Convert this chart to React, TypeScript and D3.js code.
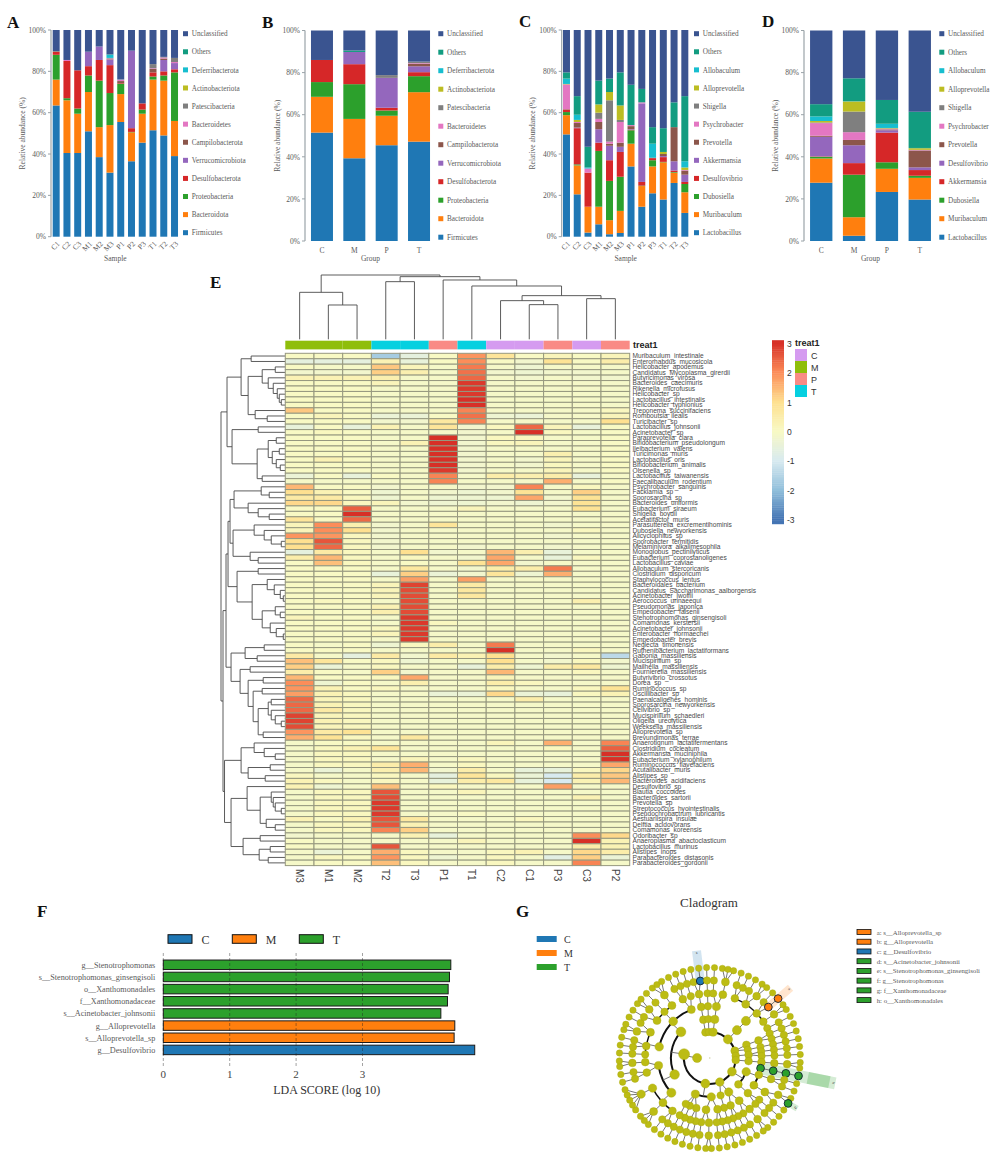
import React from "react";
import * as d3 from "d3";

const sampleIds = ["C1","C2","C3","M1","M2","M3","P1","P2","P3","T1","T2","T3"];
const groupIds = ["C","M","P","T"];
const phylumNames = ["Firmicutes","Bacteroidota","Proteobacteria","Desulfobacterota","Verrucomicrobiota","Campilobacterota","Bacteroidetes","Patescibacteria","Actinobacteriota","Deferribacterota","Others","Unclassified"];
const genusNamesC = ["Lactobacillus","Muribaculum","Dubosiella","Desulfovibrio","Akkermansia","Prevotella","Psychrobacter","Shigella","Alloprevotella","Allobaculum","Others","Unclassified"];
const genusNamesD = ["Lactobacillus","Muribaculum","Dubosiella","Akkermansia","Desulfovibrio","Prevotella","Psychrobacter","Shigella","Alloprevotella","Allobaculum","Others","Unclassified"];
const stackColors = ["#1f77b4","#ff7f0e","#2ca02c","#d62728","#9467bd","#8c564b","#e377c2","#7f7f7f","#bcbd22","#17becf","#129c80","#3a5490"];

const phylumBySample = [
  [63.5,12.5,12,1.5,0,0.2,0,0,0,0,0.1,10.2],
  [40.5,25.5,1,18,0,0,0.5,0,0,0,0,14.5],
  [40.5,19,2.5,18.5,0,0,0,0,0,0,0,19.5],
  [51,19,8,4.5,7,0,0,0,0,0,0,10.5],
  [38.5,14.5,22.5,10,6.5,0,0,0,0,0,0,8],
  [31,23,15.5,13.5,2.5,0.3,0.4,0.3,0,1.5,0.2,11.8],
  [55.5,13.5,5,0.3,0,1,0.7,0,0,0,0.1,23.9],
  [36.5,14,0.2,1.8,37.5,0,0,0,0,0,0,10],
  [45.5,14,2,3,0,0,0,0,0,0,0,35.5],
  [51.5,24.5,1.5,2,0,1.7,0.3,2,0,0,0,16.5],
  [49,26.5,2.5,2,5.5,0.7,0.5,0.3,0,0,0,13],
  [39,17,23.5,1.5,3,0,0.5,2,0,0,0,13.5],
];
const phylumByGroup = [
  [51.5,17,7,10.5,0,0,0,0,0,0,0,14],
  [39.3,18.7,16.5,9.5,5.8,0,0,0,0,0,0.7,9.5],
  [45.5,14,2.5,1.3,14.2,0,0,1.3,0,0,0,21.2],
  [47.2,23.5,7.6,1.9,2.8,1.2,0.3,0.7,0,0,0,14.8],
];
const genusBySample = [
  [49.5,9.3,1.5,1.2,0,0.2,12,0,0.2,2.6,3,20.5],
  [20.5,14,0.5,17.5,0.3,2.2,0.5,0,1,2.5,9,32],
  [2,12.5,0,16.5,0,0,2,0,0,0.5,10,56.5],
  [6,8.5,27,4,6.5,3.5,1.5,3,4,0,11.5,24.5],
  [1.2,6.8,19,10,7,1,1,20,4,0,6.5,23.5],
  [1.8,10.7,16.5,12,2.5,2,10,1,7,0,16,20.5],
  [34,11,6.5,0.2,0.3,1.5,0.5,0,0,0,19.5,26.5],
  [14.5,10,0.2,1.8,38,0,0.5,0,0,0,6.5,28.5],
  [21,13,3,1,0,0.2,0,0,0,6.8,8,47],
  [18,18,0.2,2.3,0.5,1,0,0,1,0,11.5,47.5],
  [26,5,0.3,0.7,4.5,16.5,0,0,0,0,12,35],
  [11.5,10,4,1,3.5,2,0.3,0,1.2,3,31.5,32],
];
const genusByGroup = [
  [27.7,11.5,0.8,0.2,9.3,0.5,6,0.3,0.7,2.2,5.8,35],
  [2.5,8.8,20.2,5.5,8.5,2.5,3.7,9.8,4.8,0.1,10.9,22.7],
  [23.3,11,3.1,14.1,1.1,0.4,0.3,0.2,0.2,2,11.3,33],
  [19.7,10.3,1,2.7,1.3,8,0.2,0.1,0.8,0.1,17.2,38.6],
];

const heatColumns = ["M3","M1","M2","T2","T3","P1","T1","C2","C1","P3","C3","P2"];
const heatTreat: Record<string,string> = {C:"#d59bf0",M:"#8fbe0a",P:"#f98b85",T:"#06d0e0"};
const heatLegendStops = ["#4575b4","#91bfdb","#d8eaf0","#f8f9c4","#fee090","#fc8d59","#d73027"];
const heatRowLabels = ["Muribaculum_intestinale","Enterorhabdus_mucosicola","Helicobacter_apodemus","Candidatus_Mycoplasma_girerdii","Butyricimonas_virosa","Bacteroides_caecimuris","Rikenella_microfusus","Helicobacter_sp","Lactobacillus_intestinalis","Helicobacter_typhlonius","Treponema_succinifaciens","Romboutsia_ilealis","Turicibacter_sp","Lactobacillus_johnsonii","Acinetobacter_sp","Paraprevotella_clara","Bifidobacterium_pseudolongum","Ileibacterium_valens","Turicimonas_muris","Lactobacillus_oris","Bifidobacterium_animalis","Olsenella_sp","Lactobacillus_taiwanensis","Faecalibaculum_rodentium","Psychrobacter_sanguinis","Facklamia_sp","Sporosarcina_sp","Bacteroides_uniformis","Eubacterium_siraeum","Shigella_boydii","Acetatifactor_muris","Parasutterella_excrementihominis","Dubosiella_newyorkensis","Alicyclophilus_sp","Sporobacter_termitidis","Melaminivora_alkalimesophila","Monoglobus_pectinilyticus","Eubacterium_coprostanoligenes","Lactobacillus_caviae","Allobaculum_stercoricanis","Clostridium_disporicum","Staphylococcus_lentus","Bacteroidales_bacterium","Candidatus_Saccharimonas_aalborgensis","Acinetobacter_lwoffii","Aerococcus_urinaeequi","Pseudomonas_japonica","Empedobacter_falsenii","Stenotrophomonas_ginsengisoli","Comamonas_kerstersii","Acinetobacter_johnsonii","Enterobacter_hormaechei","Empedobacter_brevis","Neglecta_timonensis","Ruthenibacterium_lactatiformans","Gabonia_massiliensis","Mucispirillum_sp","Mailhella_massiliensis","Fournierella_massiliensis","Butyrivibrio_crossotus","Dorea_sp","Ruminococcus_sp","Oscillibacter_sp","Paenalcaligenes_hominis","Sporosarcina_newyorkensis","Cellvibrio_sp","Mucispirillum_schaedleri","Oligella_ureolytica","Weeksella_massiliensis","Alloprevotella_sp","Brevundimonas_terrae","Anaerotignum_lactatifermentans","Clostridium_cocleatum","Akkermansia_muciniphila","Eubacterium_xylanophilum","Ruminococcus_flavefaciens","Acutalibacter_muris","Alistipes_sp","Bacteroides_acidifaciens","Desulfovibrio_sp","Blautia_coccoides","Bacteroides_sartorii","Prevotella_sp","Streptococcus_hyointestinalis","Pseudochrobactrum_lubricantis","Aestuariispira_insulae","Delftia_acidovorans","Comamonas_koreensis","Odoribacter_sp","Anaeroplasma_abactoclasticum","Lactobacillus_murinus","Alistipes_inops","Parabacteroides_distasonis","Parabacteroides_gordonii"];
const heatValues = [
[0,0,0,-1.7,-.6,0,1.9,.8,0,.2,0,.2],
[-.6,-.6,-.6,.3,-.5,0,2,0,-.2,.9,0,.5],
[0,-.1,-.1,1.3,.2,-.1,2.2,-.1,-.3,-.1,-.1,-.1],
[-.2,-.2,-.2,1.2,.4,-.1,2.3,-.2,-.3,-.2,-.2,-.1],
[.3,.3,.3,.4,-.1,-.1,2.4,-.1,-.2,-.1,-.2,-.2],
[0,0,0,.2,-.1,-.1,2.9,-.1,-.1,-.1,-.1,-.1],
[0,0,0,-.1,-.1,-.1,2.9,-.1,-.1,-.1,-.1,-.1],
[0,0,0,-.1,-.1,-.1,2.9,-.1,-.1,-.1,-.1,-.1],
[0,0,0,-.1,-.1,-.1,3,-.1,-.1,-.1,-.1,-.1],
[0,0,0,-.1,-.1,-.1,3,-.1,-.1,-.1,-.1,-.1],
[1.3,0,0,-.1,-.1,-.1,2.1,-.1,-.1,-.1,-.1,.1],
[0,.2,0,-.4,-.4,0,2.3,-.3,-.4,-.1,-.1,.2],
[0,0,0,-.2,-.2,.7,2.1,-.1,-.1,-.1,-.1,1],
[-.5,0,-.5,.3,-.1,.8,-.2,.1,2.4,.2,-.5,0],
[0,.1,0,-.1,-.1,-.1,-.2,-.1,3,.1,-.1,0],
[0,0,0,-.1,-.1,3,-.2,.1,.1,-.1,-.1,0],
[0,0,0,-.1,.3,3,-.2,.1,.2,-.1,-.1,0],
[0,0,0,-.1,-.1,3,-.2,-.1,-.1,-.1,-.1,0],
[0,0,0,-.1,-.1,3,-.2,-.1,-.1,.4,-.1,0],
[0,.3,0,-.1,-.1,3,-.2,-.1,-.2,.2,-.1,0],
[0,0,0,-.1,-.1,3,-.2,-.1,-.2,.1,-.1,0],
[0,0,0,-.1,-.1,2.9,-.2,-.1,-.1,.2,-.1,0],
[-.4,0,-.5,0,-.1,2.1,-.1,.5,.4,.5,-.5,-.1],
[-.1,-.1,-.1,-.1,-.1,2.1,-.1,-.1,-.1,1.6,-.1,0],
[1.5,0,0,-.2,-.1,-.1,-.2,-.2,2.1,-.1,.1,-.1],
[1,.3,0,-.3,-.1,-.2,-.3,-.2,.9,-.1,1.2,-.1],
[.6,.6,.1,-.3,-.1,-.3,-.3,-.3,1.7,-.2,.9,-.1],
[1.1,1.1,.1,.2,-.2,-.3,-.3,-.2,-.3,-.2,.9,-.1],
[0,0,2.5,-.1,-.1,-.1,.2,-.1,-.1,-.1,.9,-.1],
[0,0,3,-.1,-.1,-.1,-.1,-.1,-.1,-.1,-.1,-.1],
[.8,0,2.4,-.1,-.1,-.1,-.1,-.1,-.1,-.1,-.1,-.1],
[.2,2,.4,-.2,-.1,.8,-.1,-.1,-.1,-.2,-.1,-.1],
[.2,2,1,-.2,-.1,-.1,-.1,-.1,-.1,-.1,.1,-.1],
[1.9,1.9,.1,-.2,-.1,-.1,-.1,-.1,-.1,-.2,-.1,-.1],
[1,2.6,.1,-.2,-.1,-.1,-.1,-.1,-.1,-.1,-.1,-.1],
[1,2.4,.1,-.2,-.1,-.1,-.2,-.1,-.1,-.2,-.1,-.1],
[-.6,.6,.1,-.1,1,-.2,-.1,1.5,.4,-.5,-.1,-.1],
[.5,1.5,.1,-.1,.1,-.1,-.2,1.7,-.1,-.5,.1,-.1],
[0,1.4,.1,-.1,0,-.1,.9,1.7,-.2,-.1,-.1,-.1],
[0,0,0,-.1,.7,-.1,-.2,.5,.5,2.2,-.1,-.1],
[0,0,0,-.5,1.2,-.4,-.2,.8,-.3,1.6,-.1,-.1],
[0,0,0,-.1,1.8,-.1,1.8,-.1,-.1,-.1,-.1,-.1],
[0,0,0,.2,2.8,-.1,.6,-.1,-.1,-.1,-.1,-.1],
[0,0,0,.2,2.7,-.1,.7,-.1,-.1,-.1,-.1,-.1],
[0,0,0,.2,2.7,-.1,.7,-.1,-.1,-.1,-.1,-.1],
[0,.1,0,-.1,2.7,-.1,-.1,-.1,-.1,-.1,.4,-.1],
[0,0,0,.3,2.7,-.1,-.1,-.1,-.1,-.1,-.1,-.1],
[0,0,0,.4,2.7,-.1,-.1,-.1,-.1,-.1,-.1,-.1],
[.2,0,0,-.1,2.9,-.1,-.1,-.1,-.1,-.1,-.1,-.1],
[0,0,0,-.1,2.9,.1,-.1,-.1,-.1,-.1,-.1,-.1],
[0,0,0,.1,2.9,-.1,-.1,-.1,-.1,-.1,-.1,-.1],
[0,0,0,.2,2.9,-.1,-.1,-.1,-.1,-.1,-.1,-.1],
[0,0,0,-.1,2.9,-.1,-.1,-.1,-.1,-.1,-.1,-.1],
[0,-.1,0,-.3,.1,.5,-.1,2.2,-.1,-.1,-.1,-.1],
[0,0,0,-.1,-.1,-.1,-.1,3,-.1,-.1,.1,-.1],
[.6,-.1,-.6,.6,-.2,.6,.3,1,-.1,-.2,-.1,-1.4],
[1.4,.8,0,.1,-.3,-.1,-.1,1,-.1,-.2,.1,-.2],
[1.2,-.4,-.1,.1,-.1,-.1,-.5,.5,-.3,.5,.7,-.3],
[.5,0,-.1,1.2,-.2,-.1,-.1,1.5,-.1,-.1,.1,-.1],
[1.5,0,0,.1,1.7,-.1,-.1,.2,-.1,-.1,-.1,-.1],
[2,-.3,0,-.1,.4,-.1,-.1,.5,.1,-.1,-.1,-.1],
[1.9,.3,0,.1,-.1,-.1,-.1,.1,-.1,-.1,.1,.9],
[1.8,.3,.1,-.1,-.1,-.4,-.4,1.1,-.4,-.5,.1,.3],
[2.4,.2,.1,-.1,-.1,-.1,-.1,-.1,.5,-.1,-.1,-.1],
[2.4,.3,.1,-.1,-.1,-.1,-.1,-.1,-.1,-.1,-.1,-.1],
[2.4,.6,.1,-.1,-.1,-.1,-.1,-.1,-.1,-.1,-.1,-.1],
[2.8,.2,.1,-.1,-.1,-.1,-.1,-.1,-.1,-.1,-.1,-.1],
[2.8,.3,.1,-.1,-.1,-.1,-.1,-.1,-.1,-.1,-.1,-.1],
[2.7,.2,.1,-.1,-.1,-.1,-.1,-.1,-.1,-.1,-.1,-.1],
[1.9,.6,.9,-.1,-.1,-.1,-.1,-.1,-.1,-.1,-.1,-.1],
[1.6,.9,.1,-.1,.7,-.1,-.1,-.1,-.1,-.1,-.1,-.1],
[-.1,0,0,-.1,-.1,-.1,-.1,.2,-.1,1.6,-.1,2.1],
[-.1,.1,.3,.8,-.1,-.1,-.1,-.1,-.1,.1,-.1,2.5],
[-.1,.1,.1,-.1,-.1,-.1,-.1,-.1,-.1,-.1,-.1,3],
[-.1,.1,.1,-.1,.2,-.1,.1,-.1,-.1,-.1,-.1,3],
[-.1,.1,.1,.5,1.6,-.1,.1,-.1,-.1,-.1,-.1,1.7],
[-.1,-.4,-.1,.4,1.5,-.2,.5,-.1,-.5,-.5,.1,1.1],
[.1,-.1,-.1,.1,-.1,-.6,.8,.1,-.4,-1,.5,1.3],
[.3,.1,-.1,.1,-.1,-.5,.5,.7,-.5,-1,.3,1.5],
[.3,-.3,-.1,1.4,-.1,.1,-.1,-.1,-.1,1.8,-.1,-.1],
[-.1,.1,.1,2.6,-.1,-.1,.2,-.1,-.1,-.1,-.1,-.1],
[-.1,.1,.1,2.7,-.1,-.1,-.1,-.1,-.1,-.1,.3,-.1],
[-.1,.1,.1,2.9,-.1,-.1,-.1,-.1,-.1,-.1,-.1,-.1],
[-.1,.1,.1,2.9,-.1,-.1,-.1,-.1,-.1,-.1,-.1,-.1],
[-.1,.1,.1,2.9,-.1,-.1,0,-.1,-.1,-.1,-.1,-.1],
[.3,0,.3,2.6,.7,-.1,-.1,-.1,.1,-.1,-.1,-.1],
[-.1,.1,.1,2.6,.3,-.1,-.1,-.1,-.1,-.1,-.1,-.1],
[-.1,.1,.1,2.1,1.2,-.1,-.1,-.1,-.1,-.1,-.1,-.1],
[-.2,-.1,-.1,-.1,.3,-.5,-.1,-.1,-.1,-.1,2,1.1],
[0,-.1,-.1,-.1,-.1,-.1,.2,-.1,-.1,-.1,3,.3],
[0,-.1,-.1,2.6,-.1,-.1,-.1,-.1,-.1,-.1,.5,.3],
[-.1,-.4,-.1,1.6,.1,-.1,-.1,.1,.3,-.1,1.1,.5],
[-.1,.1,0,1.9,.1,-.3,-.1,.1,-.1,-.7,1.2,-.4],
[-.1,0,0,1.4,.1,-.1,-.1,.1,-.1,-.1,2.1,-.1],
];
// merge heights; each 0 is the next leaf in reading order
const colTree: any = [193,[141,0,[103,0,0]],[188,[173,0,0],[178,0,[160,0,[131,[116,0,[104,0,0]],[122,0,0]]]]]];
const rowTopA: any = [58,[44,[34,0,0],[37,[23,[10,0,0],[17,0,[12,0,[8,0,[6,0,[4,0,0]]]]]],[30,0,[18,0,0]]]],[53,[27,0,0],[28,[17,[9,0,0],[13,[6,0,0],[9,0,[5,0,0]]]],[23,0,0]]]];
const rowMidA: any = [55,[51,[24,0,[16,0,0]],[37,0,[27,0,[16,0,0]]]],[52,[31,0,[21,0,[14,0,[4,0,0]]]],[35,0,[27,0,0]]]];
const rowMidB: any = [48,[27,0,0],[33,[18,0,[11,0,[5,0,[2,0,0]]]],[23,[10,0,[5,0,0]],[15,0,[9,0,[2,0,0]]]]]];
const rowMidC: any = [54,[40,[21,0,0],[28,0,0]],[45,[35,0,0],[37,[22,0,0],[32,[23,0,0],[27,[17,[14,0,0],[14,0,[10,0,[4,0,0]]]],[22,0,0]]]]]];
const rowLow: any = [60.5,[44,[31,0,[21,0,[10,0,0]]],[37,[15,0,0],[20,0,0]]],[54,[38,0,[25,[14,0,[12,0,[10,0,[4,0,0]]]],[19,0,[10,0,0]]]],[42,[25,0,0],[26,[15,0,0],[17,0,0]]]]];
const rowTree: any = [64,rowTopA,[62,[59,[57,rowMidA,rowMidB],rowMidC],rowLow]];

const ldaLabels = ["g__Stenotrophomonas","s__Stenotrophomonas_ginsengisoli","o__Xanthomonadales","f__Xanthomonadaceae","s__Acinetobacter_johnsonii","g__Alloprevotella","s__Alloprevotella_sp","g__Desulfovibrio"];
const ldaScores = [4.33,4.31,4.29,4.28,4.18,4.39,4.38,4.69];
const ldaGroups = ["T","T","T","T","T","M","M","C"];
const ldaColors: Record<string,string> = {C:"#1f77b4",M:"#ff7f0e",T:"#2ca02c"};
const ldaTicks = [0,1,2,3];
const cladeKey = [["a: s__Alloprevotella_sp","M"],["b: g__Alloprevotella","M"],["c: g__Desulfovibrio","C"],["d: s__Acinetobacter_johnsonii","T"],["e: s__Stenotrophomonas_ginsengisoli","T"],["f: g__Stenotrophomonas","T"],["g: f__Xanthomonadaceae","T"],["h: o__Xanthomonadales","T"]];

// Nested taxa: arrays are clades, a number k is a single lineage down to a genus with k species.
const taxa: any[] = [
  [[[[1,1]]]],
  [1],
  [[[1,[3]]]],
  [[[[1,1],[1,2],[1,1],[2],1]]],
  [[[1,1]],1],
  [[1,1]],
  [[2]],
  [[[[1]],[[1,1]],[[2,1]]],[[1,1]]],
  [[[2,1],[1,1]],[1]],
  [[[1,1],[2,1]],[[1,1],[1],1]],
  [[[[1,1],[3],[5]],[[1,1],[2]]],[[[1],[1,1],[2,1]],[[1,2],[1],[3]],[[1,1],1]]],
];
const cladeHighlights: Record<string,string> = {
  "0.0.0.0.1":"C",
  "3.0.0.2.1":"M","3.0.0.2.1.0":"M",
  "7.0.0":"T","7.0.0.0":"T","7.0.0.0.0":"T","7.0.0.0.0.0":"T",
  "7.0.2.0.0.1":"T",
};
const cladeStartDeg = -14.6;

const serif = "'Liberation Serif','Times New Roman',serif";
const sans = "'Liberation Sans',Arial,sans-serif";
const gray = "#5a5a5a";

function StackPanel({ rows, cats, names, x0, x1, yTop, yBottom, inner, outer, rotate, xTitle, legendX, legendTop, legendStep, axisX, yTitleX }: any) {
  const x = d3.scaleBand<string>().domain(cats).range([x0, x1]).paddingInner(inner).paddingOuter(outer);
  const y = d3.scaleLinear().domain([0, 100]).range([yBottom, yTop]);
  const series = d3.stack<any, any>().keys(d3.range(names.length)).value((r: number[], k: number) => r[k])(rows);
  const legend = d3.scaleLinear().domain([0, 1]).range([legendTop, legendTop + legendStep]);
  return (
    <g fontFamily={serif} fill={gray}>
      {series.map((s: any, i: number) => (
        <g key={i} fill={stackColors[i]}>
          {s.map((d: any, j: number) => (
            <rect key={j} x={x(cats[j])} width={x.bandwidth()} y={y(d[1])} height={Math.max(0, y(d[0]) - y(d[1]))} />
          ))}
        </g>
      ))}
      <line x1={axisX} x2={axisX} y1={yTop} y2={yBottom} stroke="#9aa3a8" strokeWidth={1.2} />
      {y.ticks(5).map((t) => (
        <g key={t}>
          <line x1={axisX - 3} x2={axisX} y1={y(t)} y2={y(t)} stroke="#9aa3a8" />
          <text x={axisX - 5} y={y(t) + 2.7} fontSize={7.5} textAnchor="end">{t}%</text>
        </g>
      ))}
      {cats.map((c: string) => {
        const cx = x(c)! + x.bandwidth() / 2;
        return rotate ? (
          <text key={c} transform={`translate(${cx + 2.5},${yBottom + 6}) rotate(-45)`} fontSize={7.5} textAnchor="end" dy="0.3em">{c}</text>
        ) : (
          <text key={c} x={cx} y={yBottom + 11.5} fontSize={7.5} textAnchor="middle">{c}</text>
        );
      })}
      <text x={(x0 + x1) / 2} y={261} fontSize={7.5} textAnchor="middle">{xTitle}</text>
      <text transform={`translate(${yTitleX},${(yTop + yBottom) / 2}) rotate(-90)`} fontSize={7.5} textAnchor="middle">Relative abundance (%)</text>
      {names.map((n: string, i: number) => {
        const ly = legend(names.length - 1 - i);
        return (
          <g key={n}>
            <rect x={legendX} y={ly - 2.5} width={5} height={5} fill={stackColors[i]} />
            <text x={legendX + 8.7} y={ly + 2.7} fontSize={7.2}>{n}</text>
          </g>
        );
      })}
    </g>
  );
}

function layoutDendro(tree: any) {
  const root: any = d3.hierarchy(tree, (d: any) => (Array.isArray(d) ? [d[1], d[2]] : null));
  root.leaves().forEach((l: any, i: number) => { l.pos = i; });
  root.eachAfter((n: any) => {
    if (n.children) n.pos = (n.children[0].pos + n.children[1].pos) / 2;
    n.h = Array.isArray(n.data) ? n.data[0] : 0;
  });
  return root;
}

function Heatmap() {
  const x = d3.scaleBand<string>().domain(heatColumns).range([285.3, 629.7]);
  const y = d3.scaleBand<string>().domain(heatRowLabels).range([353.3, 865.6]);
  const color = d3.scaleLinear<string>().domain(d3.range(-3, 3.01, 1)).range(heatLegendStops).clamp(true);
  const colRoot = layoutDendro(colTree);
  const rowRoot = layoutDendro(rowTree);
  const colH = d3.scaleLinear().domain([0, 193]).range([339.3, 275]);
  const rowH = d3.scaleLinear().domain([0, 64]).range([285.3, 221]);
  const colPos = d3.scaleLinear().domain([0, 11]).range([x(heatColumns[0])! + x.bandwidth() / 2, x(heatColumns[11])! + x.bandwidth() / 2]);
  const rowPos = d3.scaleLinear().domain([0, 93]).range([y(heatRowLabels[0])! + y.bandwidth() / 2, y(heatRowLabels[93])! + y.bandwidth() / 2]);
  const barY = d3.scaleLinear().domain([-3, 3]).range([520, 344]);
  const barSteps = d3.range(-3.13, 3.13, 0.0626);
  return (
    <g>
      {rowRoot.descendants().filter((n: any) => n.children).map((n: any, i: number) => {
        const [a, b] = n.children;
        return <path key={i} fill="none" stroke="#4a4a4a" strokeWidth={0.9}
          d={`M${rowH(a.h)},${rowPos(a.pos)}H${rowH(n.h)}V${rowPos(b.pos)}H${rowH(b.h)}`} />;
      })}
      {colRoot.descendants().filter((n: any) => n.children).map((n: any, i: number) => {
        const [a, b] = n.children;
        return <path key={i} fill="none" stroke="#4a4a4a" strokeWidth={0.9}
          d={`M${colPos(a.pos)},${colH(a.h)}V${colH(n.h)}H${colPos(b.pos)}V${colH(b.h)}`} />;
      })}
      {heatColumns.map((c) => (
        <rect key={c} x={x(c)} width={x.bandwidth()} y={340.7} height={8.7} fill={heatTreat[c[0]]} />
      ))}
      <text x={633} y={347.5} fontSize={9} fontWeight="bold" fontFamily={sans} fill="#222">treat1</text>
      {heatValues.map((row, r) => row.map((v, c) => (
        <rect key={`${r}-${c}`} x={x(heatColumns[c])} y={y(heatRowLabels[r])} width={x.bandwidth()} height={y.bandwidth()}
          fill={color(v)} stroke="#96987f" strokeWidth={1} />
      )))}
      {heatRowLabels.map((l) => (
        <text key={l} x={632.5} y={y(l)! + y.bandwidth() / 2 + 2.2} fontSize={6.6} fontFamily={sans} fill="#4a4a4a">{l}</text>
      ))}
      {heatColumns.map((c) => (
        <text key={c} transform={`translate(${x(c)! + x.bandwidth() / 2},869) rotate(90)`} fontSize={10} fontFamily={sans} fill="#444" dy="0.35em">{c}</text>
      ))}
      {barSteps.map((v) => (
        <rect key={v} x={772} width={12} y={barY(v + 0.0626)} height={barY(v) - barY(v + 0.0626) + 0.4} fill={color(v)} />
      ))}
      {d3.range(-3, 4).map((t) => (
        <text key={t} x={787} y={barY(t) + 3} fontSize={8.5} fontFamily={sans} fill="#333">{t}</text>
      ))}
      <text x={795} y={346} fontSize={9} fontWeight="bold" fontFamily={sans} fill="#222">treat1</text>
      {Object.keys(heatTreat).map((k, i) => (
        <g key={k}>
          <rect x={795} y={349 + i * 12} width={12} height={12} fill={heatTreat[k]} />
          <text x={811} y={358.5 + i * 12} fontSize={9} fontFamily={sans} fill="#333">{k}</text>
        </g>
      ))}
    </g>
  );
}

function LdaPanel() {
  const x = d3.scaleLinear().domain([0, 1]).range([163.3, 229.7]);
  const y = d3.scaleBand<string>().domain(ldaLabels).range([958.7, 1056]).paddingInner(0.22).paddingOuter(0.11);
  const legendKeys = ["C", "M", "T"];
  const legendX = d3.scaleOrdinal<string, number>().domain(legendKeys).range([168, 232.3, 299.3]);
  return (
    <g fontFamily={serif}>
      {legendKeys.map((k) => (
        <g key={k}>
          <rect x={legendX(k)} y={934.7} width={24} height={8.6} fill={ldaColors[k]} stroke="#111" />
          <text x={legendX(k) + 33.5} y={943.5} fontSize={12} fill="#333">{k}</text>
        </g>
      ))}
      {ldaLabels.map((l, i) => (
        <g key={l}>
          <rect x={x(0)} y={y(l)} width={x(ldaScores[i]) - x(0)} height={y.bandwidth()} fill={ldaColors[ldaGroups[i]]} stroke="#1a1a1a" />
          <text x={155.3} y={y(l)! + y.bandwidth() / 2 + 3} fontSize={8.2} textAnchor="end" fill={gray}>{l}</text>
        </g>
      ))}
      {ldaTicks.map((t) => (
        <g key={t}>
          <line x1={x(t)} x2={x(t)} y1={953} y2={1066} stroke="#222" strokeOpacity={0.6} strokeDasharray="3 2" strokeWidth={0.7} />
          <text x={x(t)} y={1078} fontSize={11} textAnchor="middle" fill="#444">{t}</text>
        </g>
      ))}
      <text x={326.7} y={1094} fontSize={12} textAnchor="middle" fill="#333">LDA SCORE (log 10)</text>
    </g>
  );
}

function expand(spec: any, depth: number, id: string): any {
  if (typeof spec === "number") {
    if (depth < 5) return { id, children: [expand(spec, depth + 1, id + ".0")] };
    return { id, children: spec ? d3.range(spec).map((i) => ({ id: `${id}.${i}` })) : undefined };
  }
  return { id, children: spec.map((c: any, i: number) => expand(c, depth + 1, `${id}.${i}`)) };
}

function Cladogram() {
  const cx = 709.8, cy = 1058;
  const data = { id: "", children: taxa.map((t, i) => expand(t, 1, String(i))) };
  const root: any = d3.hierarchy(data, (d: any) => d.children);
  d3.cluster().size([2 * Math.PI, 1]).separation((a: any, b: any) => (a.parent === b.parent ? 0.72 : 1))(root);
  const start = (cladeStartDeg * Math.PI) / 180;
  const ring = d3.scaleLinear().domain([1, 6]).range([26, 90.5]);
  const nodes = root.descendants();
  nodes.forEach((n: any) => { n.a = n.x + start; n.r = n.depth === 0 ? 0 : ring(n.depth); });
  const size = d3.scaleSqrt().domain([1, 30]).range([3.2, 5]).clamp(true);
  const pt = (a: number, r: number) => d3.pointRadial(a, r);
  const arc = d3.arc<any>();
  const wedgeSpec = (n: any) => {
    const c = cladeHighlights[n.data.id];
    return c ? ldaColors[c] : null;
  };
  const wedgeExtent: Record<string, number[]> = { "0.0.0.0.1": [78, 108, 9], "3.0.0.2.1": [78, 107, 8], "7.0.0": [52, 128, 12], "7.0.2.0.0.1": [90, 101, 6] };
  const wedgeText: Record<string, string> = { "0.0.0.0.1": "c", "3.0.0.2.1": "a", "7.0.0": "h", "7.0.2.0.0.1": "d" };
  const wedges = nodes.filter((n: any) => wedgeExtent[n.data.id]);
  return (
    <g>
      <text x={709} y={907} fontSize={13} fontFamily={serif} fill="#333" textAnchor="middle">Cladogram</text>
      {["C", "M", "T"].map((k, i) => (
        <g key={k}>
          <rect x={536.7} y={936 + i * 14} width={20} height={6} fill={ldaColors[k]} />
          <text x={564} y={943 + i * 14} fontSize={10} fontFamily={serif} fill="#333">{k}</text>
        </g>
      ))}
      {cladeKey.map(([t, k], i) => (
        <g key={t}>
          <rect x={857} y={929.5 + i * 9.73} width={14} height={5} fill={ldaColors[k]} stroke="#111" strokeWidth={0.8} />
          <text x={876.7} y={934.5 + i * 9.73} fontSize={6.8} fontFamily={serif} fill={gray}>{t}</text>
        </g>
      ))}
      <g transform={`translate(${cx},${cy})`}>
        {wedges.map((n: any) => {
          const [r0, r1, w] = wedgeExtent[n.data.id];
          const col = wedgeSpec(n)!;
          return (
            <g key={n.data.id} transform={`rotate(${(n.a * 180) / Math.PI})`}>
              <rect x={-w / 2} y={-r1} width={w} height={r1 - r0} fill={col} opacity={0.2} />
              {n.data.id === "7.0.0" && <rect x={-w / 2} y={-r1 + 6} width={w} height={22} fill={col} opacity={0.25} />}
              <text x={0} y={-r1 + 3} fontSize={3.5} fontFamily={sans} fill="#444" textAnchor="middle">{wedgeText[n.data.id]}</text>
            </g>
          );
        })}
        {nodes.filter((n: any) => n.children).map((n: any) => {
          const kids = n.children;
          const as = kids.map((k: any) => k.a);
          const lo = d3.min(as) as number, hi = d3.max(as) as number;
          const rc = kids[0].r;
          const wide = hi - lo > 0.28 && n.depth <= 3;
          const width = n.depth <= 2 ? 2 : 1.5;
          const [px, py] = pt(n.a, n.r);
          return (
            <g key={n.data.id || "root"}>
              {wide ? (
                <>
                  <path d={arc({ innerRadius: rc - width / 2, outerRadius: rc + width / 2, startAngle: lo, endAngle: hi }) as string} fill="#111" />
                  {n.depth > 0 && (() => {
                    const [qx, qy] = pt(n.a, rc);
                    return <line x1={px} y1={py} x2={qx} y2={qy} stroke="#666" strokeWidth={0.9} />;
                  })()}
                </>
              ) : (
                kids.map((k: any) => {
                  const [qx, qy] = pt(k.a, k.r);
                  return <line key={k.data.id} x1={px} y1={py} x2={qx} y2={qy} stroke="#666" strokeWidth={0.9} />;
                })
              )}
            </g>
          );
        })}
        {(() => {
          const inner = pt(-Math.PI / 2, 12.7);
          const outer = pt(-Math.PI / 2 + 0.1, 26);
          return <line x1={inner[0]} y1={inner[1]} x2={outer[0]} y2={outer[1]} stroke="#666" strokeWidth={0.9} />;
        })()}
        {nodes.filter((n: any) => n.depth > 0).map((n: any) => {
          const [qx, qy] = pt(n.a, n.r);
          const hl = wedgeSpec(n);
          return <circle key={n.data.id} cx={qx} cy={qy} r={hl ? 3.9 : size(n.leaves().length) + (n.depth >= 6 ? 0 : 0.5)}
            fill={hl || "#bcbc14"} stroke={hl ? "#123" : "#a8a810"} strokeWidth={hl ? 0.9 : 0.4} />;
        })}
        {(() => {
          const c = pt(-Math.PI / 2, 12.7);
          return <circle cx={c[0]} cy={c[1]} r={4.6} fill="#bcbc14" stroke="#a8a810" strokeWidth={0.4} />;
        })()}
        <circle r={0.7} fill="#c8c89a" />
      </g>
    </g>
  );
}

const panelLetters = [["A",7,28],["B",262,28],["C",519,27],["D",762,27],["E",210,288],["F",37,917],["G",516,917]];

export default function App() {
  return (
    <svg width={1000} height={1165} viewBox="0 0 1000 1165" style={{ position: "absolute", left: 0, top: 0, background: "#fff" }}>
      {panelLetters.map(([t, x, y]) => (
        <text key={t as string} x={x as number} y={y as number} fontSize={17} fontWeight="bold" fontFamily={serif} fill="#111">{t}</text>
      ))}
      <StackPanel rows={phylumBySample} cats={sampleIds} names={phylumNames} x0={50.8} x1={179.9} yTop={30} yBottom={236.7} inner={0.35} outer={0.175} rotate xTitle="Sample" legendX={183} legendTop={33.7} legendStep={18.09} axisX={51} yTitleX={25} />
      <StackPanel rows={phylumByGroup} cats={groupIds} names={phylumNames} x0={305.8} x1={435.2} yTop={30.5} yBottom={241} inner={0.32} outer={0.16} xTitle="Group" legendX={438.3} legendTop={33.7} legendStep={18.5} axisX={305} yTitleX={280} />
      <StackPanel rows={genusBySample} cats={sampleIds} names={genusNamesC} x0={561.1} x1={690.2} yTop={30} yBottom={236.7} inner={0.35} outer={0.175} rotate xTitle="Sample" legendX={694} legendTop={33.7} legendStep={18.09} axisX={561.7} yTitleX={535} />
      <StackPanel rows={genusByGroup} cats={groupIds} names={genusNamesD} x0={804.8} x1={936.2} yTop={30.5} yBottom={241} inner={0.32} outer={0.16} xTitle="Group" legendX={939.3} legendTop={33.7} legendStep={18.5} axisX={804} yTitleX={778} />
      <Heatmap />
      <LdaPanel />
      <Cladogram />
    </svg>
  );
}
